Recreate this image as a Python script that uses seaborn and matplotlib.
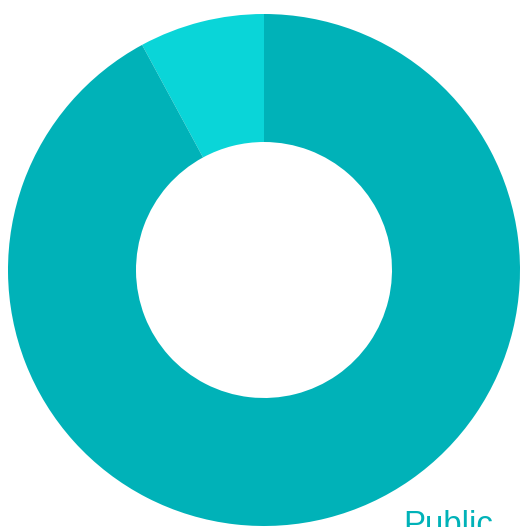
import matplotlib
matplotlib.use("Agg")
import matplotlib.pyplot as plt
import seaborn as sns

# Share of responses by segment
segments = ["Other", "Public"]
shares = [7.9, 92.1]
segment_colors = ["#0AD5D8", "#00B2B8"]

sns.set_theme(style="white")
plt.rcParams["font.family"] = ["Liberation Sans", "DejaVu Sans"]

W, H = 521, 527
fig = plt.figure(figsize=(W / 100, H / 100), dpi=100)
ax = fig.add_axes([0, 0, 1, 1])

palette = sns.color_palette(segment_colors)
wedges, _ = ax.pie(
    shares,
    colors=palette,
    startangle=90,
    counterclock=True,
    radius=1.0,
    wedgeprops=dict(width=0.5, linewidth=0),
)

# Unit radius spans 256 px; centre sits at (264, 270) px from the top-left corner
scale = 256.0
cx, cy = 264.0, 270.0
ax.set_xlim(-cx / scale, (W - cx) / scale)
ax.set_ylim(-(H - cy) / scale, cy / scale)
ax.set_aspect("auto")
ax.axis("off")

ax.text((403 - cx) / scale, -(534 - cy) / scale, segments[1],
        color="#00B2B8", fontsize=23.8, ha="left", va="baseline")

fig.savefig("out.png", dpi=100)
